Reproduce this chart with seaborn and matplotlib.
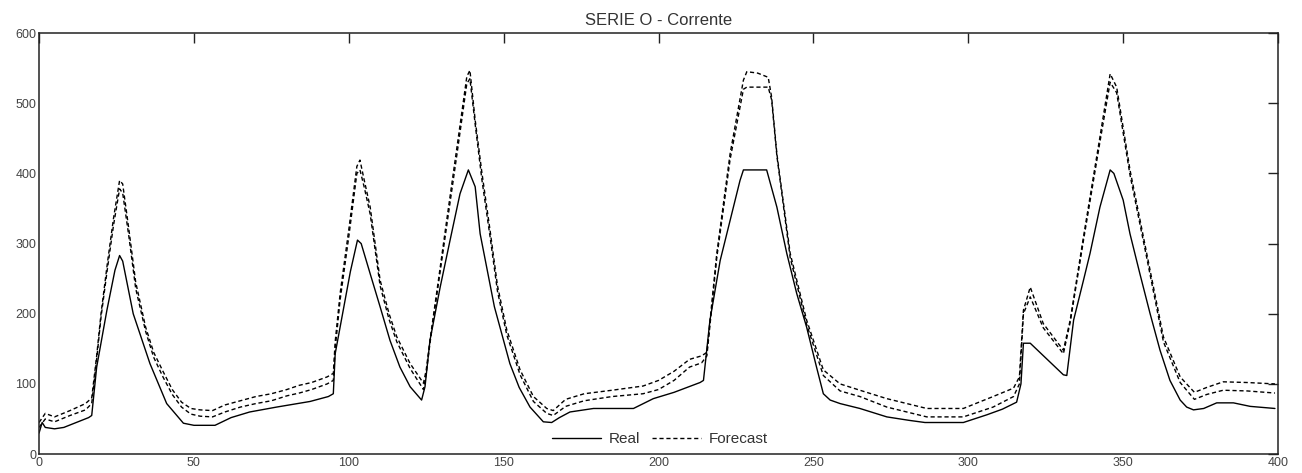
import matplotlib
matplotlib.use('Agg')
import matplotlib.pyplot as plt
import seaborn as sns
import pandas as pd

# Real series (sample index, value)
real_x = [0, 1, 2, 5, 8, 12, 16, 17, 18.6, 21.9, 24.5, 26, 27, 30.4, 35.8, 41.2, 46.6, 50, 56.8,
          62, 68, 76.7, 87.5, 93.4, 95, 95.6, 98.2, 100.5, 102.8, 104, 106.9, 110.1, 113.3, 116.5,
          119.8, 123.5, 124.6, 126.2, 129.5, 132.7, 135.9, 138.6, 140.8, 142.4, 147, 152, 155,
          158.5, 162.8, 165.5, 168, 171.4, 179, 191.9, 198.3, 205, 213.4, 214.5, 216.6, 219.9,
          223.1, 226.3, 227.4, 234.9, 238.2, 241.4, 244.6, 247.8, 251, 253.2, 255.4, 258.6, 265,
          273.7, 281, 286, 298.4, 306, 311, 315.6, 317, 317.8, 320, 330.7, 331.8, 334, 337.2,
          339.3, 342.5, 345.8, 347, 350, 352.2, 355.4, 358.7, 361.9, 365.1, 368.4, 370.5, 372.7,
          376, 380.2, 385.6, 391, 399]
real_y = [30, 45, 38, 36, 38, 45, 52, 55, 124, 205, 262, 283, 275, 200, 129, 72, 44, 41, 41,
          52, 60, 67, 75, 82, 86, 143, 205, 260, 305, 300, 257, 210, 162, 124,
          96, 77, 96, 162, 238, 305, 371, 405, 381, 314, 210, 129, 95,
          67, 46, 45, 52, 60, 65, 65, 79, 88, 102, 105, 191, 276,
          333, 390, 405, 405, 352, 286, 229, 181, 124, 86, 77, 72, 65,
          53, 48, 45, 45, 56, 64, 74, 100, 158, 158, 113, 112, 191, 248,
          286, 352, 405, 400, 362, 314, 257, 200, 148, 105, 77, 67, 63,
          65, 73, 73, 68, 65]

# Forecast curves (two dashed runs)
fc_x = [0, 2, 5, 10, 15, 17, 18.6, 20, 22, 24, 26, 27, 29, 31.2, 34.4, 37, 40, 43, 46, 49, 52,
        56, 60, 65, 70, 75, 80, 84, 88, 93, 95, 95.6, 97.2, 100, 102.6, 103.6, 105, 106.9, 110.1,
        113, 115.5, 119.8, 124.1, 125, 126.2, 129, 131.6, 135, 138.1, 139.1, 140.8, 143, 145.6,
        148, 151, 155.3, 159.6, 163.9, 166, 170, 176, 185, 195, 200, 205, 210, 213.9, 215.6,
        218.8, 223.1, 227.4, 228.5, 232, 235.4, 236.5, 238.2, 242.5, 247.8, 253.2, 258.6, 265,
        273.7, 286.6, 298.4, 308, 314.6, 316.5, 317.8, 320, 324.2, 330.7, 332.9, 337.2, 342.5,
        345.8, 347.9, 352.2, 357.6, 363, 368.4, 373, 377, 382.3, 390, 399]
fc_upper = [45, 58, 53, 62, 72, 80, 140, 200, 270, 335, 390, 385, 320, 245, 181, 145, 118, 92,
            74, 65, 63, 62, 70, 76, 82, 86, 92, 98, 102, 110, 115, 160, 229, 320, 410, 419, 390,
            352, 248, 200, 167, 129, 101, 120, 162, 250, 333, 440, 538, 547, 476, 400, 319, 240,
            177, 120, 82, 65, 62, 78, 86, 91, 97, 105, 118, 135, 140, 145, 286, 428, 533, 545,
            543, 537, 509, 428, 286, 191, 120, 100, 91, 79, 65, 65, 82, 94, 110, 205, 238, 186,
            148, 191, 310, 452, 542, 523, 405, 286, 167, 110, 88, 95, 103, 102, 100]
fc_lower = [38, 50, 46, 55, 63, 72, 135, 195, 262, 325, 378, 372, 310, 236, 175, 138, 110, 85,
            67, 57, 54, 53, 60, 67, 72, 76, 83, 87, 92, 100, 105, 150, 220, 310, 400, 405, 380,
            342, 240, 192, 160, 122, 92, 115, 158, 245, 325, 430, 528, 535, 470, 390, 310, 232,
            170, 113, 75, 58, 55, 68, 76, 82, 86, 92, 105, 124, 130, 140, 280, 420, 520, 523,
            523, 523, 505, 425, 280, 185, 112, 90, 82, 67, 53, 53, 67, 82, 100, 200, 224, 180,
            143, 188, 305, 445, 530, 515, 398, 280, 160, 102, 78, 85, 91, 90, 87]

x_ticks = [0, 50, 100, 150, 200, 250, 300, 350, 400]
y_ticks = [0, 100, 200, 300, 400, 500, 600]

sns.set_style('white')
plt.rcParams['font.family'] = ['Liberation Sans', 'DejaVu Sans']

fig = plt.figure(figsize=(13.02, 4.73), dpi=100)
ax = fig.add_axes([0.030, 0.040, 0.9516, 0.890])

sns.lineplot(x=real_x, y=real_y, ax=ax, color='black', linewidth=1.0, label='Real')
sns.lineplot(x=fc_x, y=fc_upper, ax=ax, color='black', linewidth=1.0,
             linestyle=(0, (3, 2)), label='Forecast')
sns.lineplot(x=fc_x, y=fc_lower, ax=ax, color='black', linewidth=1.0,
             linestyle=(0, (3, 2)), label='_nolegend_')

ax.set_xlim(0, 400)
ax.set_ylim(0, 600)
ax.set_xticks(x_ticks)
ax.set_yticks(y_ticks)
ax.tick_params(direction='in', length=7, width=1, top=True, right=True,
               labelsize=9, labelcolor='#444444', pad=2, color='#222222')
for s in ax.spines.values():
    s.set_visible(True)
    s.set_color('#222222')
    s.set_linewidth(1.1)

ax.set_title('SERIE O - Corrente', fontsize=12, color='#333333', pad=6)
ax.legend(loc='center', bbox_to_anchor=(0.501, 0.036), ncol=2, frameon=False,
          fontsize=11, handlelength=3.2, columnspacing=0.8, handletextpad=0.5,
          labelcolor='#333333')

fig.savefig('out.png', dpi=100)
